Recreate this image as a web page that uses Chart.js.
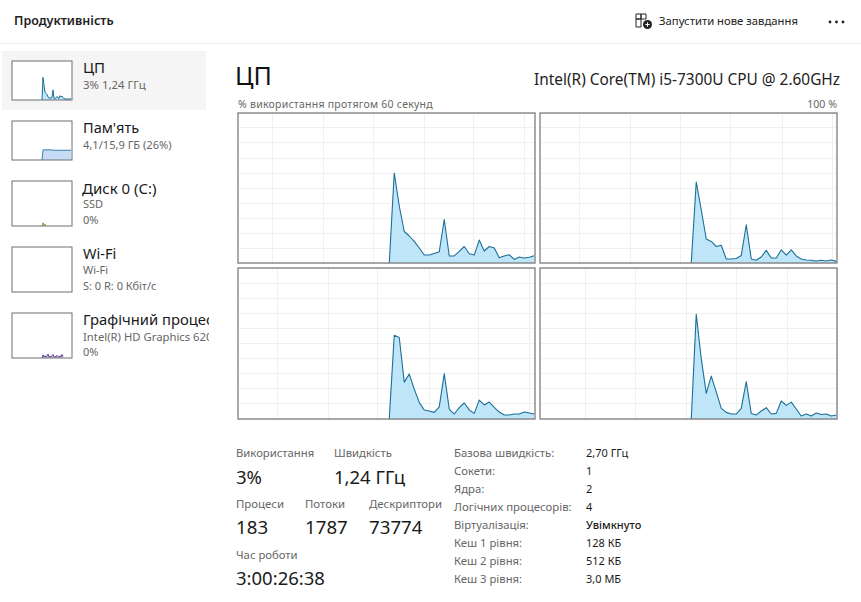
<!DOCTYPE html>
<html lang="uk"><head><meta charset="utf-8">
<script src="https://cdn.jsdelivr.net/npm/chart.js@4"></script>
<style>
html,body{margin:0;padding:0;background:#fff;width:861px;height:602px;overflow:hidden;font-family:"Noto Sans","Open Sans",sans-serif;}
.t{position:absolute;white-space:nowrap;transform:translateY(-50%);line-height:1.2;color:#1a1a1a;}
.g{color:#666;}
.box{position:absolute;}
canvas{display:block;}
</style></head><body>
<div class="box" style="left:0;top:43px;width:861px;height:1px;background:#ececec"></div>
<div class="box" style="left:2px;top:51px;width:204px;height:59px;background:#f5f5f5"></div>
<div class="t" style="left:14px;top:20px;font-size:12.5px;font-weight:600;color:#222">Продуктивність</div>
<svg class="box" style="left:635px;top:13px" width="18" height="17" viewBox="0 0 18 17"><path d="M1 1h5v5H1zM6 1h5v5H6zM1 6h5v8H1z" fill="none" stroke="#222" stroke-width="1"/><circle cx="12.5" cy="11.5" r="4.5" fill="#222"/><path d="M10.3 11.5h4.4M12.5 9.3v4.4" stroke="#fff" stroke-width="1"/></svg>
<div class="t" style="left:659px;top:21px;font-size:11.3px;color:#222">Запустити нове завдання</div>
<svg class="box" style="left:828px;top:20px" width="18" height="4"><circle cx="2" cy="2" r="1.4" fill="#222"/><circle cx="8.5" cy="2" r="1.4" fill="#222"/><circle cx="15" cy="2" r="1.4" fill="#222"/></svg>

<div class="t" style="left:83px;top:67px;font-size:15px">ЦП</div>
<div class="t g" style="left:83px;top:85px;font-size:11.4px">3% 1,24 ГГц</div>
<div class="t" style="left:83px;top:128px;font-size:14.5px">Пам'ять</div>
<div class="t g" style="left:83px;top:145px;font-size:11.1px">4,1/15,9 ГБ (26%)</div>
<div class="t" style="left:82px;top:188px;font-size:15px">Диск 0 (C:)</div>
<div class="t g" style="left:83px;top:204px;font-size:11px">SSD</div>
<div class="t g" style="left:83px;top:220px;font-size:11px">0%</div>
<div class="t" style="left:83px;top:254px;font-size:14.5px">Wi-Fi</div>
<div class="t g" style="left:83px;top:270px;font-size:11px">Wi-Fi</div>
<div class="t g" style="left:83px;top:286px;font-size:11px">S: 0 R: 0 Кбіт/с</div>
<div class="box" style="left:83px;top:308px;width:126px;height:60px;overflow:hidden">
<div class="t" style="left:0;top:12px;font-size:14.8px">Графічний процес</div>
<div class="t g" style="left:0;top:29px;font-size:11.3px">Intel(R) HD Graphics 620</div>
<div class="t g" style="left:0;top:44px;font-size:11px">0%</div>
</div>

<div class="t" style="left:235px;top:75px;font-size:25px;color:#111">ЦП</div>
<div class="t" style="right:21px;top:80px;font-size:15.4px;color:#222">Intel(R) Core(TM) i5-7300U CPU @ 2.60GHz</div>
<div class="t g" style="left:238px;top:104px;font-size:10.5px;letter-spacing:.25px">% використання протягом 60 секунд</div>
<div class="t g" style="right:24px;top:104px;font-size:10.6px">100 %</div>

<div class="t g" style="left:236px;top:453px;font-size:11.3px">Використання</div>
<div class="t g" style="left:334px;top:453px;font-size:11.3px">Швидкість</div>
<div class="t" style="left:236px;top:477px;font-size:18.5px">3%</div>
<div class="t" style="left:334px;top:477px;font-size:18.5px">1,24 ГГц</div>
<div class="t g" style="left:236px;top:504px;font-size:11.4px">Процеси</div>
<div class="t g" style="left:305px;top:504px;font-size:11.4px">Потоки</div>
<div class="t g" style="left:369px;top:504px;font-size:11.4px">Дескриптори</div>
<div class="t" style="left:236px;top:527px;font-size:18.7px">183</div>
<div class="t" style="left:305px;top:527px;font-size:18.7px">1787</div>
<div class="t" style="left:369px;top:527px;font-size:18.7px">73774</div>
<div class="t g" style="left:236px;top:555px;font-size:11.3px">Час роботи</div>
<div class="t" style="left:236px;top:578px;font-size:18.5px">3:00:26:38</div>

<div class="t g" style="left:454px;top:453px;font-size:11.3px">Базова швидкість:</div><div class="t" style="left:586px;top:453px;font-size:11px">2,70 ГГц</div>
<div class="t g" style="left:454px;top:471px;font-size:11.3px">Сокети:</div><div class="t" style="left:586px;top:471px;font-size:11px">1</div>
<div class="t g" style="left:454px;top:489px;font-size:11.3px">Ядра:</div><div class="t" style="left:586px;top:489px;font-size:11px">2</div>
<div class="t g" style="left:454px;top:507px;font-size:11.4px">Логічних процесорів:</div><div class="t" style="left:586px;top:507px;font-size:11px">4</div>
<div class="t g" style="left:454px;top:525px;font-size:11.3px">Віртуалізація:</div><div class="t" style="left:586px;top:525px;font-size:11px;font-weight:500">Увімкнуто</div>
<div class="t g" style="left:454px;top:543px;font-size:11.3px">Кеш 1 рівня:</div><div class="t" style="left:586px;top:543px;font-size:11px">128 КБ</div>
<div class="t g" style="left:454px;top:561px;font-size:11.3px">Кеш 2 рівня:</div><div class="t" style="left:586px;top:561px;font-size:11px">512 КБ</div>
<div class="t g" style="left:454px;top:579px;font-size:11.3px">Кеш 3 рівня:</div><div class="t" style="left:586px;top:579px;font-size:11px">3,0 МБ</div>

<script>
// Seconds on the 60-second window (one tick per sample)
const seconds = [30,31,32,33,34,35,36,37,38,39,40,41,42,43,44,45,46,47,48,49,50,51,52,53,54,55,56,57,58,59];
// Logical-processor utilisation, %
const cpu0 = [0,60,38,21,18,14.4,10,5.3,5.3,6.4,7.5,29,4.7,4.7,7.8,11,6.2,5.3,15.3,8,11,10,3.5,4.7,5.5,2.4,4,3.3,3.8,4.9];
const cpu1 = [0,54,35.5,16,14.4,11,11.8,2.7,2.7,3,5,25.5,2.7,1.8,4,8.4,3.3,3.3,8.7,5.3,8.7,4.7,2.7,2,1.8,1.3,1.8,1.3,2,1.1];
const cpu2 = [0,55.5,54,24.4,29.7,19.8,11,6,5.3,4.4,8,30,6.6,3.3,7.5,10.6,6,3.7,12.5,9.3,11.2,7.7,4.6,2.6,2.6,3.3,3.3,4.6,4,3.3];
const cpu3 = [0,69.4,40,17,28.4,18,7,4.4,3.3,3.3,7,24.7,3.7,2.6,5.3,7.5,3.3,3.7,11.9,9,11.2,6.6,2,3.3,2,4,3,3.3,2,2.6];
// Vertical grid positions (seconds), they scroll with time in each panel
const grid0 = [6.9,17,27.1,37.2,47.1,57.2];
const grid1 = [7.9,18.1,28.1,38.1,48.5,58.4];
const grid2 = [7.9,18,27.9,38.3,48.1,58.2];
const grid3 = [9,19.1,29.2,39.2,49.4,59.4];
const yTicks = [0,10,20,30,40,50,60,70,80,90,100];
// Sidebar thumbnails
const miniCpu = [0,58,38,20,17,14,8,5,5,5,7,26,4,3,6,9,5,4,11,8,10,6,3,3,3,2,3,2,3,3];
const miniMem = [0,26,26,26,26,26,26,26,26,26,26,25,25,25,25,25,25,25,25,25,25,25,25,25,25,25,25,25,25,25];
const miniDisk = [0,7,4,3,2,null,null,null,null,null,null,null,null,null,null,null,null,null,null,null,null,null,null,null,null,null,null,null,null,null];
const miniWifi = [null,null,null,null,null,null,null,null,null,null,null,null,null,null,null,null,null,null,null,null,null,null,null,null,null,null,null,null,null,null];
const miniGpu = [0,7,2,5,2,4,9,2,4,2,5,8,2,4,2,6,3,2,5,2,8,3,null,null,null,null,null,null,null,null];

const paper = {id:'paper',beforeDraw(c){const a=c.chartArea,x=c.ctx;x.save();x.fillStyle='#fff';x.fillRect(a.left,a.top,a.right-a.left,a.bottom-a.top);x.restore();}};
const border = {id:'frame',afterDraw(c,_a,o){const a=c.chartArea,x=c.ctx;x.save();x.strokeStyle=o.color;x.lineWidth=o.width;x.strokeRect(a.left,a.top,a.right-a.left,a.bottom-a.top);x.restore();}};

function place(left,top,w,h){const d=document.createElement('div');d.className='box';d.style.cssText=`left:${left}px;top:${top}px;width:${w}px;height:${h}px`;const c=document.createElement('canvas');d.appendChild(c);document.body.appendChild(d);return c;}

function draw(rect,values,opt){
  const start = opt.start;
  const pts = seconds.map((s,i)=>({x:s+start,y:values[i]}));
  new Chart(place(...rect),{type:'line',
    data:{datasets:[{data:pts,borderColor:opt.line,backgroundColor:opt.fill,borderWidth:opt.lw,borderJoinStyle:'round',pointRadius:0,fill:'origin',tension:0}]},
    options:{responsive:true,maintainAspectRatio:false,animation:false,events:[],
      layout:{padding:{left:1,right:1,top:1,bottom:1}},
      plugins:{legend:{display:false},tooltip:{enabled:false},frame:{color:opt.frame,width:opt.fw}},
      scales:{
        x:{type:'linear',min:0,max:opt.max,
          afterBuildTicks:a=>{a.ticks=(opt.grid||[]).map(v=>({value:v}));},
          ticks:{display:false},border:{display:false},
          grid:{display:!!opt.grid,color:'#f0f0f0',lineWidth:1,drawTicks:false}},
        y:{min:0,max:100,
          afterBuildTicks:a=>{a.ticks=yTicks.map(v=>({value:v}));},
          ticks:{display:false},border:{display:false},
          grid:{display:!!opt.grid,color:'#f0f0f0',lineWidth:1,drawTicks:false}}
      }},
    plugins:[paper,border]});
}
const main={start:0.25,max:59.4,line:'#1c6f96',fill:'#bfe6f8',lw:1.1,frame:'#7d7d7d',fw:1.3};
draw([237,112,299,152],cpu0,{...main,grid:grid0});
draw([539,112,299,152],cpu1,{...main,grid:grid1});
draw([237,267,299,153],cpu2,{...main,grid:grid2});
draw([539,267,299,153],cpu3,{...main,grid:grid3});
const mini={start:0,max:60,frame:'#6f6f6f',fw:1,lw:1};
draw([11,60,62,41],miniCpu,{...mini,line:'#1c6f96',fill:'#bfe6f8'});
draw([11,120,62,41],miniMem,{...mini,line:'#3f7fa8',fill:'#c6dcf5'});
draw([11,180,62,47],miniDisk,{...mini,line:'#8a9a3c',fill:'#b9c67a'});
draw([11,246,62,47],miniWifi,{...mini,line:'#a85a1e',fill:'#fff'});
draw([11,312,62,47],miniGpu,{...mini,line:'#6a4a9c',fill:'#d8cdea'});
</script>
</body></html>
